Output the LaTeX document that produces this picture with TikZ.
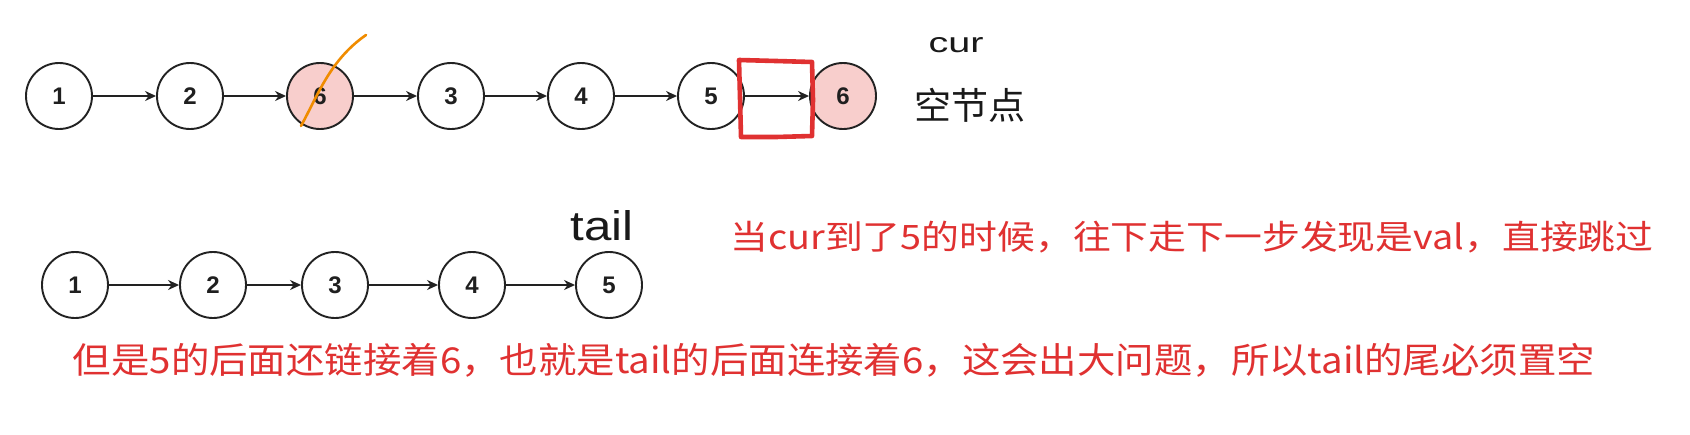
\documentclass[tikz,border=0pt]{standalone}
\usepackage{fontspec}
\setmainfont{Liberation Sans}
\newfontfamily\cjk{Noto Sans CJK SC}
\newfontfamily\numfont{Liberation Sans}
\usetikzlibrary{arrows.meta}
\definecolor{nodefill}{HTML}{F8CECC}
\definecolor{redx}{HTML}{E03131}
\definecolor{orangex}{HTML}{F08C00}
\definecolor{linec}{HTML}{222222}
\begin{document}
\begin{tikzpicture}[x=1pt,y=-1pt,
  lnode/.style={circle,draw=linec,line width=1.9pt,minimum size=66pt,inner sep=0pt,
    font=\numfont\bfseries\fontsize{24}{24}\selectfont,text=black!88},
  hl/.style={lnode,fill=nodefill},
  link/.style={draw=linec,line width=1.5pt,-{Stealth[length=11pt,width=10pt]}},
  note/.style={inner sep=0pt,text=redx},
  hand/.style={inner sep=0pt,text=black!90},
]
\useasboundingbox (0,0) rectangle (1690,434);
\fill[white] (0,0) rectangle (1690,434);

% top row
\node[lnode] (a1) at (59,96) {1};
\node[lnode] (a2) at (190,96) {2};
\node[hl]    (a3) at (320,96) {6};
\node[lnode] (a4) at (451,96) {3};
\node[lnode] (a5) at (581,96) {4};
\node[lnode] (a6) at (711,96) {5};
\node[hl]    (a7) at (843,96) {6};
\draw[link] (a1) -- (a2);
\draw[link] (a2) -- (a3);
\draw[link] (a3) -- (a4);
\draw[link] (a4) -- (a5);
\draw[link] (a5) -- (a6);
\draw[link] (a6) -- (a7);

% strike-through and highlight box
\draw[orangex,line width=2.6pt,line cap=round] (301,126) .. controls (318,95) and (330,60) .. (366,35);
\draw[redx,line width=4.6pt,line join=round,line cap=round]
  (739,60) -- (776,61) -- (812,62) -- (813,100) -- (812,136) -- (776,137) -- (741,137) -- (740,98) -- cycle;

\node[hand] (cur) at (956,45) {\resizebox{55pt}{15pt}{cur}};
\node[hand,font=\cjk\fontsize{37}{37}\selectfont] (empty) at (970,105) {空节点};

% bottom row
\node[lnode] (b1) at (75,285) {1};
\node[lnode] (b2) at (213,285) {2};
\node[lnode] (b3) at (335,285) {3};
\node[lnode] (b4) at (472,285) {4};
\node[lnode] (b5) at (609,285) {5};
\draw[link] (b1) -- (b2);
\draw[link] (b2) -- (b3);
\draw[link] (b3) -- (b4);
\draw[link] (b4) -- (b5);
\node[hand] (tail) at (602,226) {\resizebox{63pt}{30pt}{tail}};

% notes
\node[note] (t1) at (1192,237) {\resizebox*{923pt}{32pt}{\cjk 当cur到了5的时候，往下走下一步发现是val，直接跳过}};
\node[note] (t2) at (834,360) {\resizebox*{1522pt}{34pt}{\cjk 但是5的后面还链接着6，也就是tail的后面连接着6，这会出大问题，所以tail的尾必须置空}};
\end{tikzpicture}
\end{document}
